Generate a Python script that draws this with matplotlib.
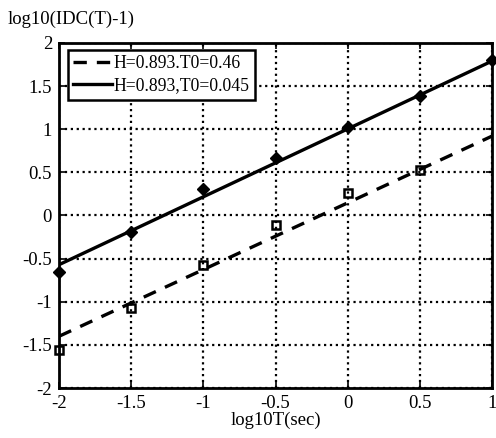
import matplotlib
matplotlib.use("Agg")
import matplotlib.pyplot as plt

plt.rcParams['font.family'] = ['Liberation Serif', 'DejaVu Serif']

# data
x_pts = [-2, -1.5, -1, -0.5, 0, 0.5, 1]
y_solid_pts = [-0.66, -0.19, 0.31, 0.67, 1.02, 1.38, 1.80]
x_sq = [-2, -1.5, -1, -0.5, 0, 0.5]
y_sq_pts = [-1.56, -1.07, -0.57, -0.11, 0.26, 0.53]
x_line = [-2, 1]
y_fit_solid = [-0.57, 1.79]
y_fit_dashed = [-1.40, 0.92]
legend_labels = ['H=0.893.T0=0.46', 'H=0.893,T0=0.045']
xticks = [-2, -1.5, -1, -0.5, 0, 0.5, 1]
xticklabels = ['-2', '-1.5', '-1', '-0.5', '0', '0.5', '1']
yticks = [-2, -1.5, -1, -0.5, 0, 0.5, 1, 1.5, 2]
yticklabels = ['-2', '-1.5', '-1', '-0.5', '0', '0.5', '1', '1.5', '2']

fig = plt.figure(figsize=(4.96, 4.38), dpi=100)
ax = fig.add_axes([0.119, 0.114, 0.873, 0.788])

l1, = ax.plot(x_line, y_fit_dashed, '--', color='black', lw=2.4, dashes=(4, 3))
l2, = ax.plot(x_line, y_fit_solid, '-', color='black', lw=2.4)
ax.plot(x_sq, y_sq_pts, 's', mfc='none', mec='black', mew=1.8, ms=6, clip_on=False)
ax.plot(x_pts, y_solid_pts, 'D', color='black', ms=6, clip_on=False)

ax.set_xlim(-2, 1)
ax.set_ylim(-2, 2)
ax.set_xticks(xticks)
ax.set_xticklabels(xticklabels)
ax.set_yticks(yticks)
ax.set_yticklabels(yticklabels)
ax.tick_params(direction='in', top=True, right=True, labelsize=13.5, length=4, width=1.2,
               colors='black', pad=5)
ax.grid(True, linestyle=':', color='black', lw=1.6)
for s in ax.spines.values():
    s.set_linewidth(2)

leg = ax.legend([l1, l2], legend_labels, loc='upper left', fontsize=12.7, frameon=True,
                fancybox=False, edgecolor='black', framealpha=1, handlelength=2.2,
                handletextpad=0.1, borderpad=0.3, labelspacing=0.3,
                bbox_to_anchor=(0.021, 0.98), borderaxespad=0)
leg.get_frame().set_linewidth(1.8)

ax.set_xlabel('log10T(sec)', fontsize=13.5, labelpad=0)
fig.text(0.015, 0.975, 'log10(IDC(T)-1)', fontsize=13.5, va='top', ha='left')

fig.savefig('out.png', dpi=100)
